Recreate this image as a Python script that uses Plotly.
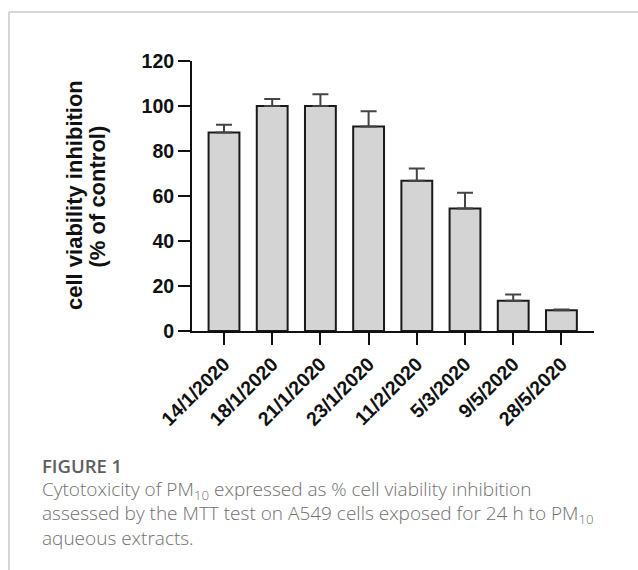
import plotly.graph_objects as go

# Sampling dates of the PM10 extracts
dates = ["14/1/2020", "18/1/2020", "21/1/2020", "23/1/2020",
         "11/2/2020", "5/3/2020", "9/5/2020", "28/5/2020"]
# Mean cell viability inhibition (% of control)
inhibition = [88.2, 100.0, 100.0, 90.9, 66.8, 54.4, 13.5, 9.2]
# Upper error (SD)
inhibition_sd = [3.5, 3.1, 5.2, 6.8, 5.4, 7.1, 2.7, 0.4]

y_ticks = [0, 20, 40, 60, 80, 100, 120]

W, H = 638, 570
ML, MR, MT, MB = 192, 44, 61, 239
PW, PH = W - ML - MR, H - MT - MB


def px(x):
    return (x - ML) / PW


def py(y):
    return (H - MB - y) / PH


axis_font = dict(family="Liberation Sans, Arial, sans-serif", size=19.5,
                 color="#111111", weight="bold")

fig = go.Figure()
fig.add_trace(go.Bar(
    x=dates,
    y=inhibition,
    width=0.64,
    marker=dict(color="#d4d4d4", line=dict(color="#1a1a1a", width=2)),
    error_y=dict(type="data", array=inhibition_sd,
                 arrayminus=[0] * len(inhibition_sd), symmetric=False,
                 color="#444444", thickness=2, width=8),
    showlegend=False,
))

fig.update_xaxes(
    type="category",
    range=[-0.664, 7.676],
    showline=True, linecolor="#111111", linewidth=2,
    ticks="outside", ticklen=12, tickwidth=2, tickcolor="#111111",
    tickangle=-45,
    tickfont=dict(family="Liberation Sans, Arial, sans-serif", size=19.5,
                  color="#111111", weight="bold"),
    showgrid=False, zeroline=False,
)
fig.update_yaxes(
    range=[0, 120],
    tickvals=y_ticks,
    showline=True, linecolor="#111111", linewidth=2,
    ticks="outside", ticklen=12, tickwidth=2, tickcolor="#111111",
    tickfont=axis_font,
    showgrid=False, zeroline=False,
)

annotations = []
# Two-line y-axis title, set as separate rotated lines for tight spacing
for text, xp, yp in [("cell viability inhibition", 74, 195),
                     ("(% of control)", 96.5, 197)]:
    annotations.append(dict(
        text=text, textangle=-90, showarrow=False,
        xref="paper", yref="paper", x=px(xp), y=py(yp),
        xanchor="center", yanchor="middle",
        font=dict(family="Liberation Sans, Arial, sans-serif", size=22,
                  color="#111111", weight="bold"),
    ))

caption_font = dict(family="Open Sans, sans-serif", size=19,
                    color="#707070", weight=300)
annotations.append(dict(
    text="FIGURE 1", showarrow=False, xref="paper", yref="paper",
    x=px(40), y=py(465), xanchor="left", yanchor="middle",
    font=dict(family="Open Sans, sans-serif", size=18.5, color="#5e5e5e",
              weight=600),
))
caption_lines = [
    "Cytotoxicity of PM<sub>10</sub> expressed as % cell viability inhibition",
    "assessed by the MTT test on A549 cells exposed for 24 h to PM<sub>10</sub>",
    "aqueous extracts.",
]
for line, yc in zip(caption_lines, [490, 513.5, 537.5]):
    annotations.append(dict(
        text=line, showarrow=False, xref="paper", yref="paper",
        x=px(40), y=py(yc), xanchor="left", yanchor="middle",
        font=caption_font,
    ))

# Light frame around the figure panel
shapes = [
    dict(type="line", xref="paper", yref="paper",
         x0=px(9), x1=px(645), y0=py(12), y1=py(12),
         line=dict(color="#d6d6d6", width=2)),
    dict(type="line", xref="paper", yref="paper",
         x0=px(9), x1=px(9), y0=py(12), y1=py(580),
         line=dict(color="#d6d6d6", width=2)),
]

fig.update_layout(
    width=W, height=H,
    margin=dict(l=ML, r=MR, t=MT, b=MB),
    paper_bgcolor="white", plot_bgcolor="white",
    annotations=annotations,
    shapes=shapes,
)

fig.write_html("out.html")
